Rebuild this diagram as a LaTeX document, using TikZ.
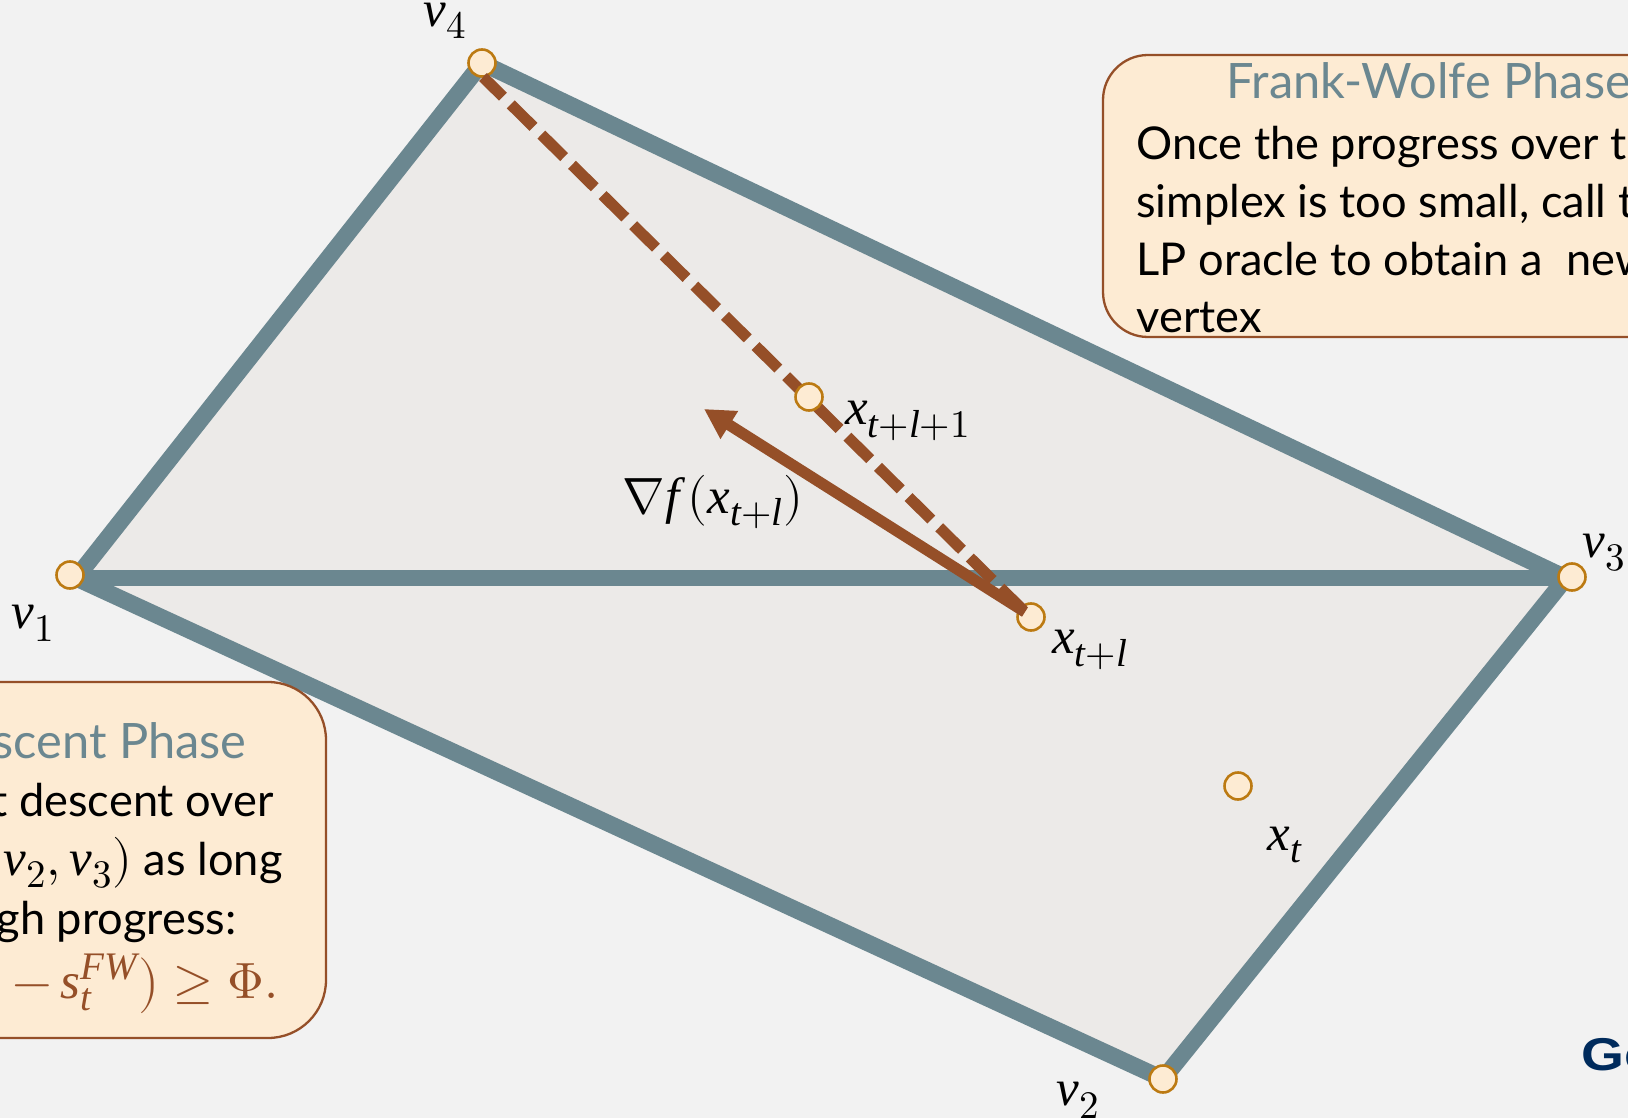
\documentclass[tikz,border=0pt]{standalone}
\usepackage{amsmath}
\usepackage{fontspec}
\usepackage{unicode-math}
\setmainfont{Lato}
\setmathfont{Latin Modern Math}
\setmathfont{Liberation Serif Italic}[range=it->up]
\DeclareMathSizes{25}{25.5}{19.5}{15}
\DeclareMathSizes{22.6}{25.5}{19.5}{15}
\usetikzlibrary{arrows.meta}
\definecolor{bgc}{HTML}{F2F2F2}
\definecolor{polyfill}{HTML}{ECEAE8}
\definecolor{teal2}{HTML}{6B8790}
\definecolor{boxfill}{HTML}{FDEBD3}
\definecolor{brownc}{HTML}{954F28}
\definecolor{dotc}{HTML}{BC7A12}
\definecolor{navyc}{HTML}{002B5C}
\tikzset{
  pt/.style={circle,draw=dotc,fill=boxfill,line width=1.3pt,minimum size=13.5pt,inner sep=0pt},
  edgeline/.style={draw=teal2,line width=8.4pt,line cap=butt,line join=miter},
  infobox/.style={draw=brownc,fill=boxfill,line width=1.15pt},
  body/.style={anchor=base west,inner sep=0pt,text=black,font=\fontsize{22.6}{28}\selectfont},
  bodyr/.style={anchor=base east,inner sep=0pt,text=black,font=\fontsize{22.6}{28}\selectfont},
  head/.style={inner sep=0pt,text=teal2,font=\fontsize{24.4}{30}\selectfont},
  lab/.style={inner sep=0pt,text=black,font=\fontsize{25}{28}\selectfont},
  dashline/.style={brownc,line width=5.6pt,dash pattern=on 16pt off 5.5pt,dash phase=2pt},
  gradline/.style={brownc,line width=5.6pt,-{Triangle[length=15pt,width=15.5pt]}}
}
\begin{document}
\begin{tikzpicture}[x=0.5pt,y=-0.5pt]
\useasboundingbox (0,0) rectangle (1628,1118);
\clip (0,0) rectangle (1628,1118);
\fill[bgc] (0,0) rectangle (1628,1118);
\coordinate (c4) at (482,63);
\coordinate (c1) at (70,575);
\coordinate (c3) at (1572,577);
\coordinate (c2) at (1163,1079);
\coordinate (cl) at (1031,617);
\coordinate (cn) at (809,397);
\coordinate (ct) at (1238,786);
\coordinate (p1) at (76,578);
\coordinate (p3) at (1566,578);
\coordinate (dstart) at (483,77);
\coordinate (tail) at (1025,612);
\coordinate (tip) at (704,409);
% polygon
\fill[polyfill] (p1) -- (c4) -- (p3) -- (c2) -- cycle;
\draw[edgeline] (p1) -- (c4) -- (p3) -- (c2) -- cycle;
\draw[edgeline] (p1) -- (p3);
% boxes
\draw[infobox,rounded corners=22.5pt] (1103,55) rectangle (1720,337);
\draw[infobox,rounded corners=29pt] (-300,682) rectangle (326,1038);
% right box text
\node[head,anchor=base west] (hfw) at (1226,99) {Frank-Wolfe Phase};
\node[body] (r1) at (1136,160) {Once the progress over t};
\node[body] (r2) at (1136,218) {simplex is too small, call t};
\node[body] (r3) at (1136,276) {LP oracle to obtain a\ \ new};
\node[body] (r4) at (1136,333) {vertex};
% left box text
\node[head,anchor=base east] (hgd) at (247,758) {scent Phase};
\node[bodyr] (l1) at (274,816) {t descent over};
\node[bodyr] (l2) at (283,875) {$v_2, v_3)$ as long};
\node[bodyr] (l3) at (237,934) {gh progress:};
\node[bodyr,text=brownc,font=\fontsize{25}{28}\selectfont] (l4) at (279,998) {$-\,s_t^{FW}\bigr)\geq\Phi.$};
% points
\node[pt] (v4) at (c4) {};
\node[pt] (v1) at (c1) {};
\node[pt] (v3) at (c3) {};
\node[pt] (v2) at (c2) {};
\node[pt] (xl) at (cl) {};
\node[pt] (xt) at (ct) {};
% dashed line and arrow lie over the points, x_{t+l+1} over them
\draw[dashline] (dstart) -- (tail);
\draw[gradline] (tail) -- (tip);
\node[pt] (xn) at (cn) {};
% labels
\node[lab] (lv4) at (445,21) {$v_4$};
\node[lab] (lv1) at (33,623) {$v_1$};
\node[lab] (lv3) at (1604,553) {$v_3$};
\node[lab] (lv2) at (1078,1100) {$v_2$};
\node[lab] (lxn) at (908,421) {$x_{t+l+1}$};
\node[lab] (lg) at (713,502) {$\mitnabla f\,(x_{t+l})$};
\node[lab] (lxl) at (1090,650) {$x_{t+l}$};
\node[lab] (lxt) at (1285,845) {$x_t$};
% logo
\node[anchor=base west,inner sep=0pt,text=navyc,xscale=1.2,transform shape,font=\fontspec{Liberation Sans Bold}\fontsize{23}{28}\selectfont] (logo) at (1581,1070) {Ge};
\end{tikzpicture}
\end{document}
